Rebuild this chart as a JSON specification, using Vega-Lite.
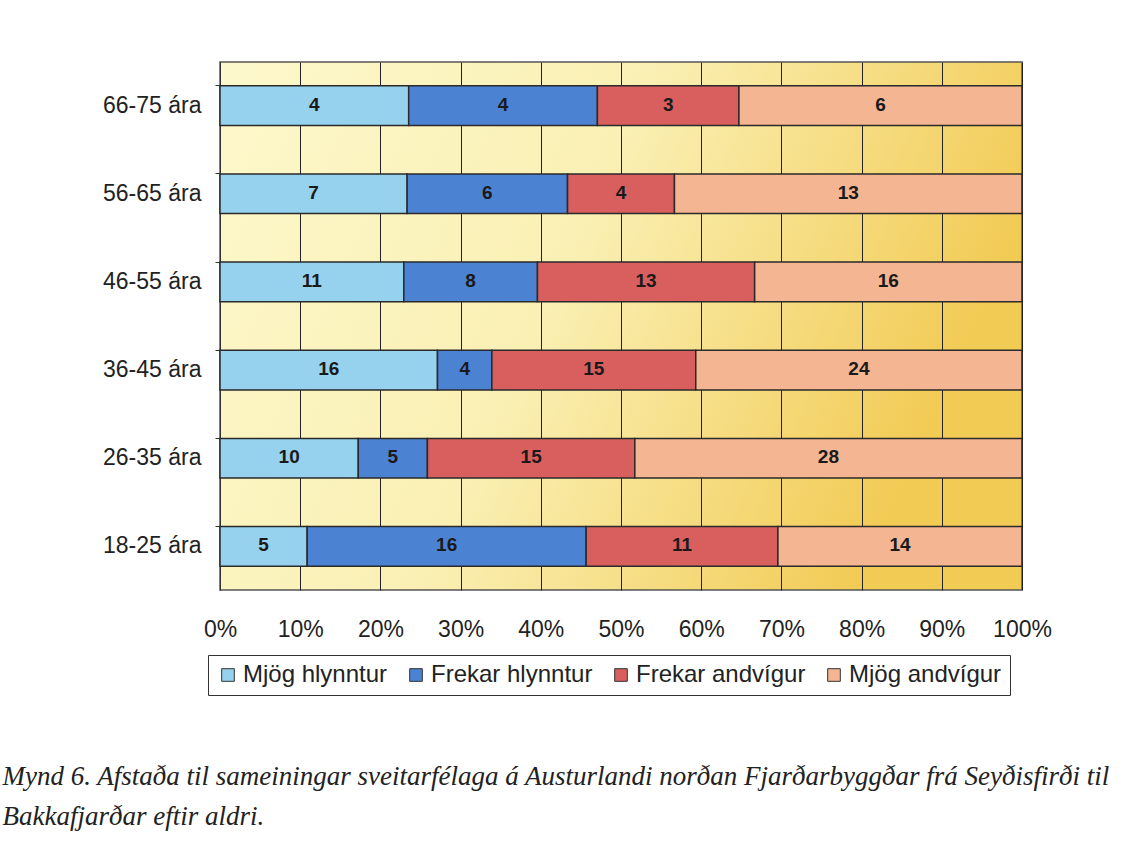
{
  "$schema": "https://vega.github.io/schema/vega-lite/v6.json",
  "autosize": {"type": "none"},
  "width": 802,
  "height": 528,
  "padding": {"left": 220, "top": 62, "right": 112, "bottom": 257},
  "background": "white",
  "config": {
    "view": {
      "stroke": "#555", "strokeWidth": 1.5,
      "fill": {
        "gradient": "linear",
        "x1": 0, "y1": 0, "x2": 1, "y2": 0.3,
        "stops": [
          {"offset": 0, "color": "#fdf8cc"},
          {"offset": 0.5, "color": "#faf0b4"},
          {"offset": 1, "color": "#f2cb55"}
        ]
      }
    },
    "font": "Liberation Sans"
  },
  "title": {
    "text": ["Mynd 6.  Afstaða til sameiningar sveitarfélaga á Austurlandi norðan Fjarðarbyggðar frá Seyðisfirði til", "Bakkafjarðar eftir aldri."],
    "orient": "bottom",
    "anchor": "start",
    "dx": -100,
    "offset": 68,
    "font": "Liberation Serif",
    "fontStyle": "italic",
    "fontWeight": "normal",
    "fontSize": 27,
    "lineHeight": 40,
    "color": "#222"
  },
  "data": {
    "values": [
      {"age": "66-75 ára", "cat": "Mjög hlynntur", "o": 1, "n": 4},
      {"age": "66-75 ára", "cat": "Frekar hlynntur", "o": 2, "n": 4},
      {"age": "66-75 ára", "cat": "Frekar andvígur", "o": 3, "n": 3},
      {"age": "66-75 ára", "cat": "Mjög andvígur", "o": 4, "n": 6},
      {"age": "56-65 ára", "cat": "Mjög hlynntur", "o": 1, "n": 7},
      {"age": "56-65 ára", "cat": "Frekar hlynntur", "o": 2, "n": 6},
      {"age": "56-65 ára", "cat": "Frekar andvígur", "o": 3, "n": 4},
      {"age": "56-65 ára", "cat": "Mjög andvígur", "o": 4, "n": 13},
      {"age": "46-55 ára", "cat": "Mjög hlynntur", "o": 1, "n": 11},
      {"age": "46-55 ára", "cat": "Frekar hlynntur", "o": 2, "n": 8},
      {"age": "46-55 ára", "cat": "Frekar andvígur", "o": 3, "n": 13},
      {"age": "46-55 ára", "cat": "Mjög andvígur", "o": 4, "n": 16},
      {"age": "36-45 ára", "cat": "Mjög hlynntur", "o": 1, "n": 16},
      {"age": "36-45 ára", "cat": "Frekar hlynntur", "o": 2, "n": 4},
      {"age": "36-45 ára", "cat": "Frekar andvígur", "o": 3, "n": 15},
      {"age": "36-45 ára", "cat": "Mjög andvígur", "o": 4, "n": 24},
      {"age": "26-35 ára", "cat": "Mjög hlynntur", "o": 1, "n": 10},
      {"age": "26-35 ára", "cat": "Frekar hlynntur", "o": 2, "n": 5},
      {"age": "26-35 ára", "cat": "Frekar andvígur", "o": 3, "n": 15},
      {"age": "26-35 ára", "cat": "Mjög andvígur", "o": 4, "n": 28},
      {"age": "18-25 ára", "cat": "Mjög hlynntur", "o": 1, "n": 5},
      {"age": "18-25 ára", "cat": "Frekar hlynntur", "o": 2, "n": 16},
      {"age": "18-25 ára", "cat": "Frekar andvígur", "o": 3, "n": 11},
      {"age": "18-25 ára", "cat": "Mjög andvígur", "o": 4, "n": 14}
    ]
  },
  "layer": [
    {
      "mark": {"type": "bar", "stroke": "#2a2a2a", "strokeWidth": 1.5},
      "encoding": {
        "y": {
          "field": "age", "type": "nominal",
          "sort": ["66-75 ára", "56-65 ára", "46-55 ára", "36-45 ára", "26-35 ára", "18-25 ára"],
          "scale": {"paddingInner": 0.55, "paddingOuter": 0.27},
          "axis": {
            "title": null, "labelFontSize": 23, "labelColor": "#222", "labelPadding": 14,
            "domainColor": "#333", "tickColor": "#333", "bandPosition": 0, "tickSize": 5
          }
        },
        "x": {
          "field": "n", "type": "quantitative", "stack": "normalize",
          "scale": {"domain": [0, 1]},
          "axis": {
            "title": null, "format": ".0%", "values": [0,0.1,0.2,0.3,0.4,0.5,0.6,0.7,0.8,0.9,1],
            "labelFontSize": 23, "labelColor": "#222", "labelPadding": 28,
            "labelOverlap": false, "labelFlush": false,
            "grid": true, "gridColor": "#222", "gridWidth": 1, "gridOpacity": 1,
            "domain": false, "ticks": false
          }
        },
        "color": {
          "field": "cat", "type": "nominal",
          "sort": ["Mjög hlynntur", "Frekar hlynntur", "Frekar andvígur", "Mjög andvígur"],
          "scale": {
            "domain": ["Mjög hlynntur", "Frekar hlynntur", "Frekar andvígur", "Mjög andvígur"],
            "range": ["#96d2ee", "#4c82d2", "#d95f5f", "#f3b592"]
          },
          "legend": {
            "title": null, "orient": "none", "direction": "horizontal", "columns": 4,
            "legendX": -12, "legendY": 593,
            "symbolType": "square", "symbolSize": 160, "symbolStrokeColor": "#333", "symbolStrokeWidth": 1,
            "labelFontSize": 24, "labelColor": "#222", "labelOffset": 3, "columnPadding": 16,
            "strokeColor": "#333", "padding": 8, "fillColor": "white", "labelLimit": 300
          }
        },
        "order": {"field": "o", "type": "quantitative"}
      }
    },
    {
      "mark": {"type": "text", "fontWeight": "bold", "fontSize": 19, "color": "#1a1a1a", "dy": -1},
      "encoding": {
        "y": {
          "field": "age", "type": "nominal",
          "sort": ["66-75 ára", "56-65 ára", "46-55 ára", "36-45 ára", "26-35 ára", "18-25 ára"]
        },
        "x": {"field": "n", "type": "quantitative", "stack": "normalize", "bandPosition": 0.5},
        "text": {"field": "n", "type": "quantitative"},
        "order": {"field": "o", "type": "quantitative"}
      }
    }
  ]
}
